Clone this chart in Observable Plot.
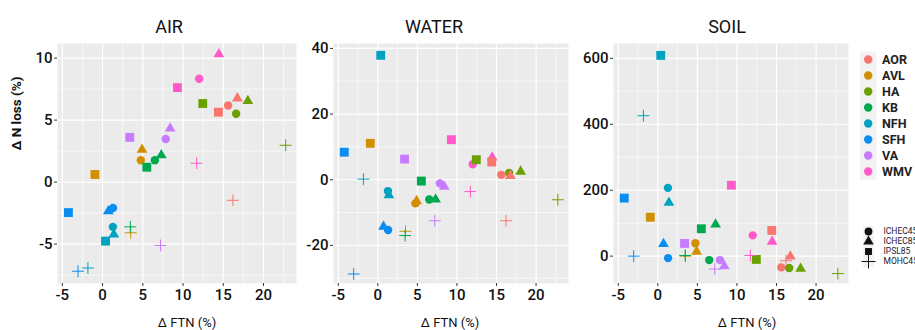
<!DOCTYPE html>
<html><head><meta charset="utf-8">
<script src="https://cdn.jsdelivr.net/npm/d3@7"></script>
<script src="https://cdn.jsdelivr.net/npm/@observablehq/plot@0.6"></script>
<style>
body{margin:0;background:#fff;}
#wrap{position:relative;width:915px;height:330px;overflow:hidden;}
#wrap svg{position:absolute;top:0;overflow:visible;}
</style></head><body><div id="wrap"></div>
<script>
const regions = ["AOR","AVL","HA","KB","NFH","SFH","VA","WMV"];
const regionColors = ["#F8766D","#D18F00","#6AA000","#00A84E","#00A3BF","#0A8DF0","#C77CFF","#FF5AC8"];
const models = ["ICHEC45","ICHEC85","IPSL85","MOHC45"];
const modelSymbols = ["circle","triangle","square","plus"];

// ΔFTN (%) by model, region order as `regions`
const ftn_ICHEC45 = [15.6, 4.75, 16.6, 6.5, 1.28, 1.3, 7.85, 12.0];
const ftn_ICHEC85 = [16.75, 4.9, 18.05, 7.3, 1.4, 0.72, 8.4, 14.45];
const ftn_IPSL85  = [14.4, -0.95, 12.45, 5.5, 0.37, -4.24, 3.38, 9.3];
const ftn_MOHC45  = [16.2, 3.5, 22.75, 3.45, -1.82, -3.05, 7.2, 11.7];

// ΔN loss (%) AIR
const air_ICHEC45 = [6.18, 1.76, 5.51, 1.76, -3.61, -2.09, 3.48, 8.34];
const air_ICHEC85 = [6.76, 2.62, 6.55, 2.17, -4.22, -2.35, 4.33, 10.32];
const air_IPSL85  = [5.64, 0.61, 6.34, 1.20, -4.76, -2.46, 3.61, 7.62];
const air_MOHC45  = [-1.47, -4.09, 2.97, -3.61, -6.93, -7.19, -5.11, 1.52];

// ΔN loss (%) WATER
const water_ICHEC45 = [1.5, -7.2, 2.1, -6.0, -3.45, -15.3, -1.1, 4.7];
const water_ICHEC85 = [1.2, -6.5, 2.5, -6.0, -4.7, -14.3, -2.1, 6.8];
const water_IPSL85  = [5.4, 11.1, 6.1, -0.4, 37.9, 8.4, 6.3, 12.2];
const water_MOHC45  = [-12.5, -15.7, -6.1, -17.0, 0.2, -28.7, -12.5, -3.6];

// ΔN loss (%) SOIL
const soil_ICHEC45 = [-34, 39, -36, -12, 207, -6, -12, 63];
const soil_ICHEC85 = [-1, 14, -38, 96, 162, 37, -30, 44];
const soil_IPSL85  = [78, 118, -10, 83, 609, 176, 38.5, 215];
const soil_MOHC45  = [-14, 0, -53, 2, 426, 0, -39, 2];

const xTicks = [-5, 0, 5, 10, 15, 20];
const xMinor = [-2.5, 2.5, 7.5, 12.5, 17.5, 22.5];
const airTicks = [-5, 0, 5, 10], airMinor = [-7.5, -2.5, 2.5, 7.5];
const waterTicks = [-20, 0, 20, 40], waterMinor = [-30, -10, 10, 30];
const soilTicks = [0, 200, 400, 600], soilMinor = [-100, 100, 300, 500];

const ftnSets = [ftn_ICHEC45, ftn_ICHEC85, ftn_IPSL85, ftn_MOHC45];
const airSets = [air_ICHEC45, air_ICHEC85, air_IPSL85, air_MOHC45];
const waterSets = [water_ICHEC45, water_ICHEC85, water_IPSL85, water_MOHC45];
const soilSets = [soil_ICHEC45, soil_ICHEC85, soil_IPSL85, soil_MOHC45];

const rows = [];
models.forEach((m, j) => regions.forEach((r, i) => rows.push({
  model: m, region: r, ftn: ftnSets[j][i], air: airSets[j][i], water: waterSets[j][i], soil: soilSets[j][i]
})));

const FONT = 'Roboto, "Noto Sans", sans-serif';
const wrap = document.getElementById("wrap");

function panel(o) {
  const dotsOf = (m) => rows.filter(d => d.model === m);
  const svg = Plot.plot({
    width: o.width, height: 330,
    marginTop: 43, marginBottom: 47, marginLeft: o.marginLeft, marginRight: o.marginRight,
    style: {fontFamily: FONT, fontSize: "15px", fontWeight: 500, color: "#1a1a1a", background: "transparent", overflow: "visible"},
    x: {domain: [-5.6, 24.1]},
    y: {domain: o.yDomain},
    color: {domain: regions, range: regionColors},
    marks: [
      Plot.frame({fill: "#EBEBEB"}),
      Plot.ruleX(xMinor, {stroke: "#fff", strokeWidth: 0.6}),
      Plot.ruleY(o.minor, {stroke: "#fff", strokeWidth: 0.6}),
      Plot.ruleX(xTicks, {stroke: "#fff", strokeWidth: 1.2}),
      Plot.ruleY(o.ticks, {stroke: "#fff", strokeWidth: 1.2}),
      Plot.axisX({ticks: xTicks, tickSize: 3, tickPadding: 3, label: null, fontSize: 15, fill: "#111", stroke: "#333", tickFormat: d => String(d)}),
      Plot.axisY({ticks: o.ticks, tickSize: 3, tickPadding: 2, label: null, fontSize: 15, fill: "#111", stroke: "#333", tickFormat: d => String(d)}),
      Plot.dot(dotsOf("ICHEC45"), {x: "ftn", y: o.key, fill: "region", symbol: "circle", r: 4.2}),
      Plot.dot(dotsOf("ICHEC85"), {x: "ftn", y: o.key, fill: "region", symbol: "triangle", r: 4.0}),
      Plot.dot(dotsOf("IPSL85"), {x: "ftn", y: o.key, fill: "region", symbol: "square", r: 5.0}),
      Plot.dot(dotsOf("MOHC45"), {x: "ftn", y: o.key, stroke: "region", symbol: "plus", r: 3.9, strokeWidth: 1}),
      Plot.text([o.title], {frameAnchor: "top", dy: -16, dx: o.titleDx, fontSize: 18, fontWeight: 400, fill: "#111", lineAnchor: "middle"}),
      Plot.text(["Δ FTN (%)"], {frameAnchor: "bottom", dy: 39, dx: o.labelDx, fontSize: 13, fontWeight: 400, fill: "#111", lineAnchor: "middle"}),
      ...(o.yLabel ? [Plot.text(["Δ N loss (%)"], {frameAnchor: "left", dx: -41, dy: -13, rotate: -90, fontSize: 13.5, fontWeight: "bold", fill: "#111", lineAnchor: "middle"})] : [])
    ]
  });
  svg.style.left = o.left + "px";
  wrap.appendChild(svg);
}

panel({key: "air", title: "AIR", yDomain: [-8.18, 11.18], ticks: airTicks, minor: airMinor,
  left: 0, width: 300, marginLeft: 57, marginRight: 4, titleDx: -8, labelDx: 10, yLabel: true});
panel({key: "water", title: "WATER", yDomain: [-31.6, 41.5], ticks: waterTicks, minor: waterMinor,
  left: 300, width: 272, marginLeft: 33, marginRight: 4, titleDx: -17, labelDx: -1});
panel({key: "soil", title: "SOIL", yDomain: [-83, 645], ticks: soilTicks, minor: soilMinor,
  left: 572, width: 280, marginLeft: 41, marginRight: 4, titleDx: -4, labelDx: 16});

// colour legend
const legendColor = Plot.plot({
  width: 63, height: 190, marginTop: 56.7, marginBottom: 16.7, marginLeft: 0, marginRight: 0,
  style: {fontFamily: FONT, background: "transparent", overflow: "visible"},
  y: {type: "point", domain: regions, padding: 0, axis: null},
  color: {domain: regions, range: regionColors},
  marks: [
    Plot.dot(regions, {y: d => d, frameAnchor: "left", dx: 15.7, symbol: "square", r: 9.2, fill: "#F2F2F2"}),
    Plot.dot(regions, {y: d => d, frameAnchor: "left", dx: 15.7, fill: d => d, r: 4.2}),
    Plot.text(regions, {y: d => d, frameAnchor: "left", dx: 29.5, text: d => d, textAnchor: "start", fontSize: 12.5, fontWeight: "bold", fill: "#222"})
  ]
});
legendColor.style.left = "852px";
wrap.appendChild(legendColor);

// shape legend
const legendShape = Plot.plot({
  width: 63, height: 100, marginTop: 40, marginBottom: 28.5, marginLeft: 0, marginRight: 0,
  style: {fontFamily: FONT, background: "transparent", overflow: "visible"},
  y: {type: "point", domain: models, padding: 0, axis: null},
  symbol: {domain: models, range: modelSymbols},
  marks: [
    Plot.dot(models, {y: d => d, frameAnchor: "left", dx: 16, symbol: "square", r: 6, fill: "#F2F2F2"}),
    Plot.dot(models.slice(0, 3), {y: d => d, frameAnchor: "left", dx: 16, symbol: d => d, r: 3.9, fill: "#111"}),
    Plot.dot(models.slice(3), {y: d => d, frameAnchor: "left", dx: 16, symbol: d => d, r: 4.6, stroke: "#111", strokeWidth: 1}),
    Plot.text(models, {y: d => d, frameAnchor: "left", dx: 31, text: d => d, textAnchor: "start", fontSize: 8.5, fill: "#223"})
  ]
});
legendShape.style.left = "852px";
legendShape.style.top = "190px";
wrap.appendChild(legendShape);
</script></body></html>
